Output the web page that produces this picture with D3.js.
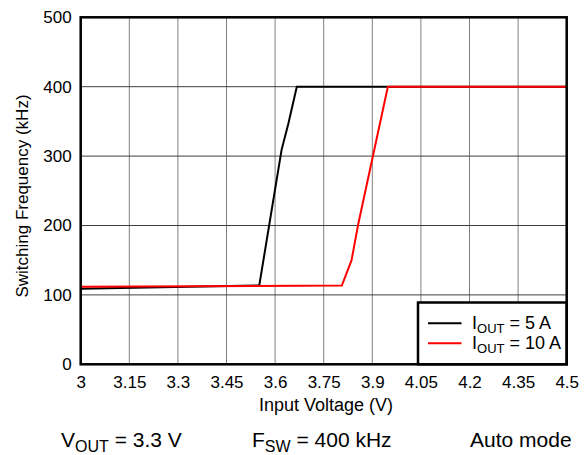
<!DOCTYPE html>
<html><head><meta charset="utf-8">
<script src="https://cdn.jsdelivr.net/npm/d3@7/dist/d3.min.js"></script>
<style>body{margin:0;background:#fff}svg{display:block}text{font-family:"Liberation Sans",Arial,sans-serif;fill:#000}</style>
</head><body><svg id="c" width="588" height="455"></svg>
<script>
const xTicks = [3, 3.15, 3.3, 3.45, 3.6, 3.75, 3.9, 4.05, 4.2, 4.35, 4.5];
const yTicks = [0, 100, 200, 300, 400, 500];
const series5A_V = [3.0, 3.546, 3.551, 3.620, 3.641, 3.667, 4.5];
const series5A_F = [109, 113.5, 113.3, 309, 347, 400, 400];
const series10A_V = [3.0, 3.806, 3.836, 3.857, 3.948, 4.5];
const series10A_F = [111.8, 113.5, 150, 203, 400, 400];
const seriesNames = ["5 A", "10 A"];
const seriesColors = ["#000000", "#ff0000"];

const svg = d3.select("#c");
const L = 80.7, R = 566.7, T = 17.3, B = 364.3;
const x = d3.scaleLinear().domain([3, 4.5]).range([L, R]);
const y = d3.scaleLinear().domain([0, 500]).range([B, T]);

// grid
svg.append("g").selectAll("line").data(xTicks).join("line")
  .attr("x1", d => x(d)).attr("x2", d => x(d)).attr("y1", T).attr("y2", B)
  .attr("stroke", "#808080").attr("stroke-width", 1);
svg.append("g").selectAll("line").data(yTicks).join("line")
  .attr("y1", d => y(d)).attr("y2", d => y(d)).attr("x1", L).attr("x2", R)
  .attr("stroke", "#404040").attr("stroke-width", 1);

// axes labels
const xa = svg.append("g").attr("transform", `translate(0,${B})`)
  .call(d3.axisBottom(x).tickValues(xTicks).tickSize(0).tickPadding(12).tickFormat(d => d3.format("")(+d.toFixed(2))));
xa.select(".domain").remove();
xa.selectAll("text").attr("font-size", 17).attr("font-family", "Liberation Sans, Arial, sans-serif").attr("fill", "#000");
const ya = svg.append("g").attr("transform", `translate(${L},0)`)
  .call(d3.axisLeft(y).tickValues(yTicks).tickSize(0).tickPadding(9));
ya.select(".domain").remove();
ya.selectAll("text").attr("font-size", 17).attr("font-family", "Liberation Sans, Arial, sans-serif").attr("fill", "#000");

// lines
const line = d3.line().x(d => x(d[0])).y(d => y(d[1]));
const d5 = series5A_V.map((v, i) => [v, series5A_F[i]]);
const d10 = series10A_V.map((v, i) => [v, series10A_F[i]]);
[d5, d10].forEach((d, i) => {
  svg.append("path").datum(d).attr("d", line).attr("fill", "none")
    .attr("stroke", seriesColors[i]).attr("stroke-width", 2).attr("stroke-linejoin", "miter");
});

// legend
const lg = svg.append("g");
lg.append("rect").attr("x", 418).attr("y", 302.5).attr("width", R - 418).attr("height", B - 302.5)
  .attr("fill", "#fff").attr("stroke", "#000").attr("stroke-width", 2.5);
seriesNames.forEach((n, i) => {
  const yy = 323.3 + i * 20;
  lg.append("line").attr("x1", 428).attr("x2", 461.5).attr("y1", yy).attr("y2", yy)
    .attr("stroke", seriesColors[i]).attr("stroke-width", 2);
  const t = lg.append("text").attr("x", 472).attr("y", yy + 6).attr("font-size", 18);
  t.append("tspan").text("I");
  t.append("tspan").attr("font-size", 13).attr("dy", 4).text("OUT");
  t.append("tspan").attr("dy", -4).text(" = " + n);
});

// frame
svg.append("rect").attr("x", L).attr("y", T).attr("width", R - L).attr("height", B - T)
  .attr("fill", "none").attr("stroke", "#000").attr("stroke-width", 2.5);

// titles
svg.append("text").attr("x", 326).attr("y", 411).attr("text-anchor", "middle")
  .attr("font-size", 18).text("Input Voltage (V)");
svg.append("text").attr("transform", `translate(28,196) rotate(-90)`).attr("text-anchor", "middle")
  .attr("font-size", 17).text("Switching Frequency (kHz)");

function sub(xp, main, s, rest, anchor) {
  const t = svg.append("text").attr("x", xp).attr("y", 447).attr("font-size", 21).attr("text-anchor", anchor || "start");
  t.append("tspan").text(main);
  if (s) { t.append("tspan").attr("font-size", 16).attr("dy", 5).text(s); t.append("tspan").attr("dy", -5).text(rest); }
}
sub(61, "V", "OUT", " = 3.3 V");
sub(252, "F", "SW", " = 400 kHz");
sub(470, "Auto mode");
</script></body></html>
